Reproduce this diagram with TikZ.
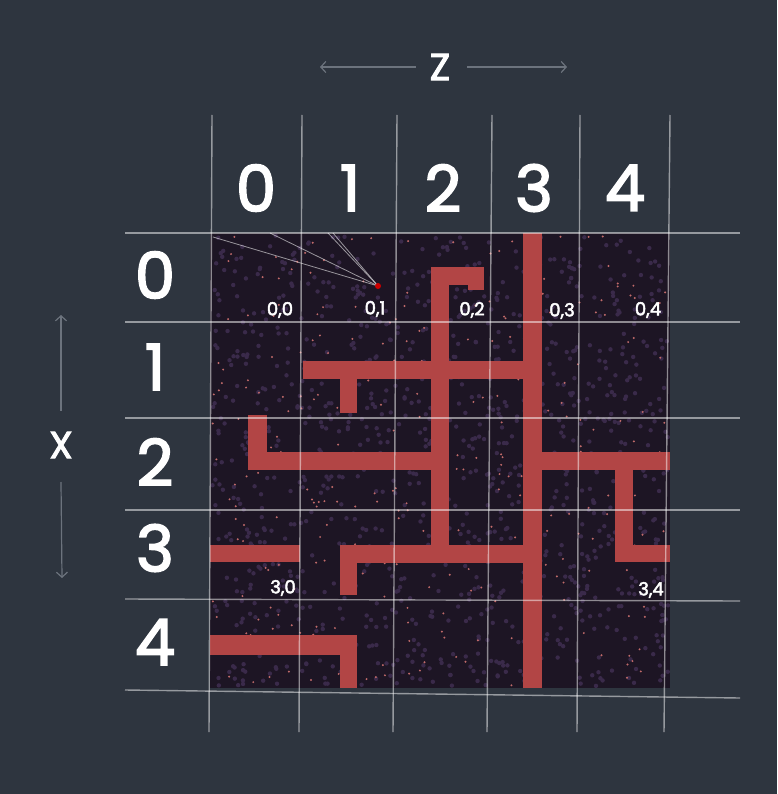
\documentclass[tikz,border=0pt]{standalone}
\usepackage{fontspec}
\setmainfont{Poppins}
\newfontfamily\medfont[FakeBold=2.6]{Poppins}
\usepackage{tikz}
\usetikzlibrary{arrows.meta,positioning}
\definecolor{bgslate}{HTML}{2E353F}
\definecolor{mapdark}{HTML}{1D1524}
\definecolor{mappurple}{HTML}{3A2A4A}
\definecolor{pathred}{HTML}{B24545}
\definecolor{axisgray}{HTML}{6C737D}
\tikzset{
  gridln/.style={draw=white, opacity=0.5, line width=1.4pt},
  bigidx/.style={text=white, font=\fontsize{64}{64}\selectfont\medfont, inner sep=0pt},
  cellidx/.style={text=white, font=\fontsize{18}{18}\selectfont\medfont, inner sep=0pt},
  axlbl/.style={text=white, font=\fontsize{38}{38}\selectfont\medfont, inner sep=0pt},
  axarrow/.style={draw=axisgray, line width=1.2pt, -{Straight Barb[length=5pt,width=11pt]}},
  corridor/.style={fill=pathred},
  ray/.style={draw=white, opacity=0.55, line width=0.8pt},
}
\begin{document}
\begin{tikzpicture}[x=1pt,y=-1pt]
  \fill[bgslate] (0,0) rectangle (777,794);
  % map floor
  \fill[mapdark] (210,233) rectangle (670,688);
  \pgfmathsetseed{42}
  \foreach \i in {1,...,1100}{
    \pgfmathsetmacro\px{212+456*rnd}
    \pgfmathsetmacro\py{235+451*rnd}
    \fill[mappurple] (\px,\py) circle (2.2);
  }
  \foreach \i in {1,...,300}{
    \pgfmathsetmacro\px{212+456*rnd}
    \pgfmathsetmacro\py{235+451*rnd}
    \fill[pathred!80] (\px,\py) circle (1.1);
  }
  % corridors
  \fill[corridor] (523,233) rectangle (542,688);
  \fill[corridor] (431,267) rectangle (449,562);
  \fill[corridor] (431,267) rectangle (484,285);
  \fill[corridor] (468,267) rectangle (484,290);
  \fill[corridor] (303,361) rectangle (542,379);
  \fill[corridor] (340,361) rectangle (357,413);
  \fill[corridor] (248,415) rectangle (267,470);
  \fill[corridor] (248,452) rectangle (449,470);
  \fill[corridor] (523,452) rectangle (670,470);
  \fill[corridor] (615,452) rectangle (633,562);
  \fill[corridor] (615,545) rectangle (670,562);
  \fill[corridor] (340,545) rectangle (542,563);
  \fill[corridor] (340,545) rectangle (357,595);
  \fill[corridor] (210,545) rectangle (300,562);
  \fill[corridor] (210,635) rectangle (357,655);
  \fill[corridor] (340,635) rectangle (357,688);
  % agent view rays
  \coordinate (eye) at (378,286);
  \draw[ray] (213,237) -- (eye);
  \draw[ray] (270,233) -- (eye);
  \draw[ray] (328,233) -- (eye);
  \draw[ray] (333,233) -- (eye);
  \fill[red!80!black] (eye) circle (3);
  % grid
  \foreach \xt/\xb in {212/209,302/299,397/393,492/487,580/577,670/664}
    \draw[gridln] (\xt,115) -- (\xb,732);
  \foreach \yl/\yr in {233/233,322/322,418/418,510/510,599/601,690/698}
    \draw[gridln] (125,\yl) -- (740,\yr);
  % indices
  \foreach \c/\xc in {0/256,1/350,2/443,3/534,4/625}
    \node[bigidx] (col\c) at (\xc,188) {\c};
  \foreach \r/\yc in {0/275,1/367,2/462,3/548,4/642}
    \node[bigidx] (row\r) at (155,\yc) {\r};
  \node[cellidx] (c00) at (280,310) {0,0};
  \node[cellidx] (c01) at (375,309) {0,1};
  \node[cellidx] (c02) at (472,310) {0,2};
  \node[cellidx] (c03) at (562,311) {0,3};
  \node[cellidx] (c04) at (648,310) {0,4};
  \node[cellidx] (c30) at (283,588) {3,0};
  \node[cellidx] (c34) at (651,590) {3,4};
  % axes
  \node[axlbl] (zlbl) at (440,67) {Z};
  \coordinate (zl) at (320,67);
  \coordinate (zr) at (567,67);
  \draw[axarrow] ([xshift=-24pt]zlbl.center) -- (zl);
  \draw[axarrow] ([xshift=27pt]zlbl.center) -- (zr);
  \node[axlbl] (xlbl) at (61,445) {X};
  \coordinate (xu) at (61,315);
  \coordinate (xd) at (62,578);
  \draw[axarrow] ([yshift=34pt]xlbl.center) -- (xu);
  \draw[axarrow] ([yshift=-37pt]xlbl.center) -- (xd);
\end{tikzpicture}
\end{document}
